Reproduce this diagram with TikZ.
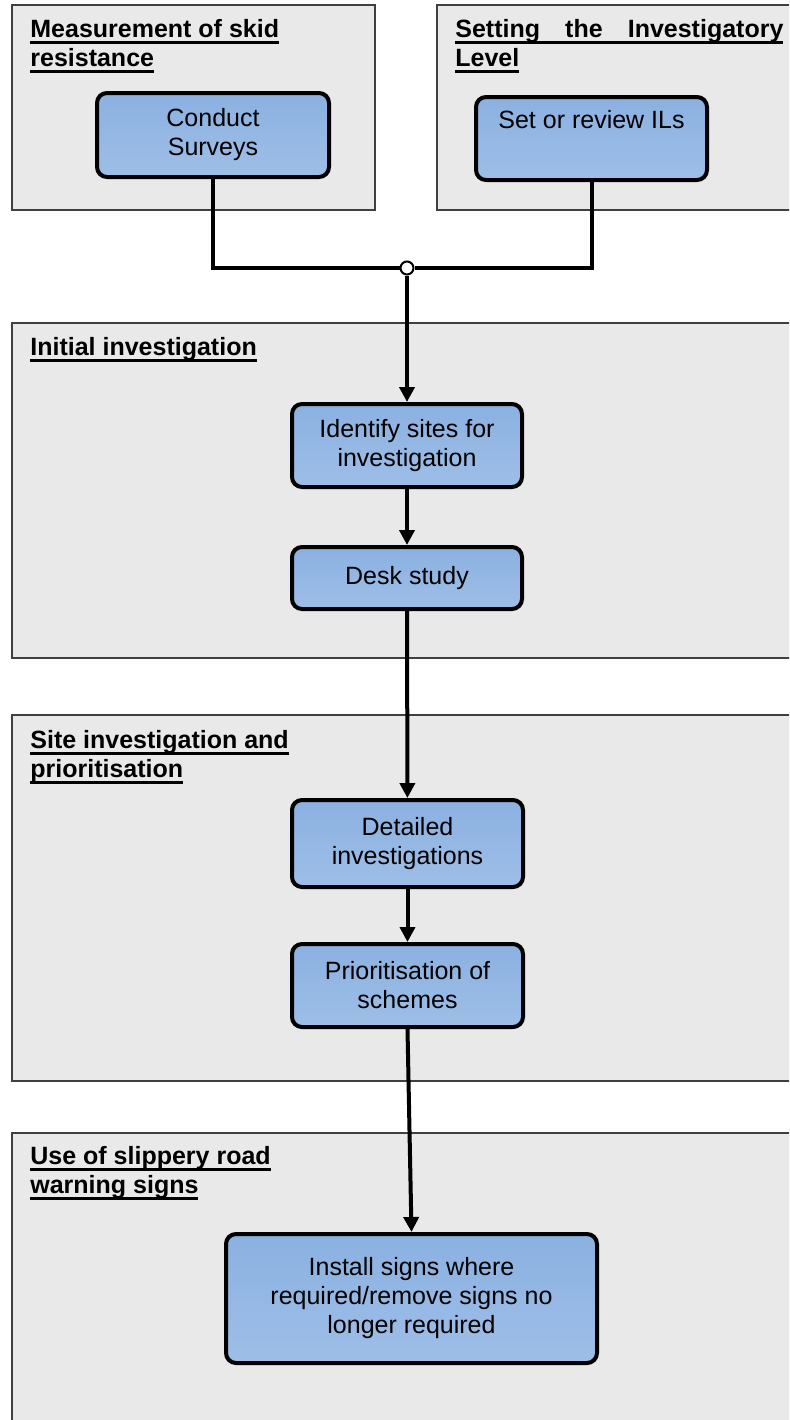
\documentclass[tikz,border=0pt]{standalone}
\usepackage{fontspec}
\setmainfont{Liberation Sans}
\usetikzlibrary{arrows.meta}
\definecolor{boxtop}{RGB}{139,177,225}
\definecolor{boxbot}{RGB}{158,190,231}
\definecolor{panelfill}{RGB}{233,233,233}
\newcommand{\ulhead}[1]{\setbox0\hbox{#1}\rlap{\rule[-3.5pt]{\wd0}{1.3pt}}\box0}
\tikzset{
	link/.style = {line width=2pt},
	flow/.style = {line width=2pt, -{Triangle[length=7.5pt,width=7.5pt]}},
	panel/.style = {draw=black!75, line width=0.6pt, fill=panelfill},
	stepbox/.style = {draw, line width=2pt, rounded corners=5pt, top color=boxtop, bottom color=boxbot,
		align=center, inner sep=0pt, font=\fontsize{12.5}{14.5}\selectfont},
	heading/.style = {anchor=base west, align=left, inner sep=0pt, font=\bfseries\fontsize{12.5}{14.5}\selectfont},
	joint/.style = {circle, draw, fill=white, line width=1pt, inner sep=0pt, minimum size=6.5pt}
}

\begin{document}
\begin{tikzpicture}[x=0.5pt, y=-0.5pt]
	\clip (0,0) rectangle (789,1420);
	% panels
	\draw[panel] (12,5) rectangle (375,210);
	\draw[panel] (437,5) rectangle (795,210);
	\draw[panel] (12,323) rectangle (795,658);
	\draw[panel] (12,715) rectangle (795,1081);
	\draw[panel] (12,1133) rectangle (795,1430);
	% headings (base = last line)
	\node[heading] (msh) at (30,66) {\ulhead{Measurement of skid}\\\ulhead{resistance}};
	\node[heading] (ilh) at (455,66) {\ulhead{\makebox[164pt][s]{Setting the Investigatory}}\\\ulhead{Level}};
	\node[heading] (inith) at (30,355) {\ulhead{Initial investigation}};
	\node[heading] (siteh) at (30,777) {\ulhead{Site investigation and}\\\ulhead{prioritisation}};
	\node[heading] (useh) at (30,1193) {\ulhead{Use of slippery road}\\\ulhead{warning signs}};
	% steps
	\node[stepbox, minimum width=116pt, minimum height=42pt] (survey) at (213,135) {Conduct\\Surveys};
	\node[stepbox, minimum width=115.5pt, minimum height=41.5pt] (setil) at (591.5,138.5) {Set or review ILs\\\strut};
	\node[joint] (join) at (407,268) {};
	\node[stepbox, minimum width=115pt, minimum height=41.5pt] (ident) at (407,445.5) {Identify sites for\\investigation};
	\node[stepbox, minimum width=115pt, minimum height=31pt] (desk) at (407,578) {Desk study};
	\node[stepbox, minimum width=115.5pt, minimum height=43.5pt] (detail) at (407.5,843.5) {Detailed\\investigations};
	\node[stepbox, minimum width=115.5pt, minimum height=41.5pt] (prio) at (407.5,985.5) {Prioritisation of\\schemes};
	\node[stepbox, minimum width=185.5pt, minimum height=64.5pt] (install) at (411.5,1298.5) {Install signs where\\required/remove signs no\\longer required};
	% connectors
	\draw[link] (survey.south) |- (join.west);
	\draw[link] (setil.south) |- (join.east);
	\draw[flow] (join.south) -- (ident.north);
	\draw[flow] (ident) -- (desk);
	\draw[flow] (desk) -- (detail);
	\draw[flow] (detail) -- (prio);
	\draw[flow] (prio.south) -- (install.north);
\end{tikzpicture}
\end{document}
